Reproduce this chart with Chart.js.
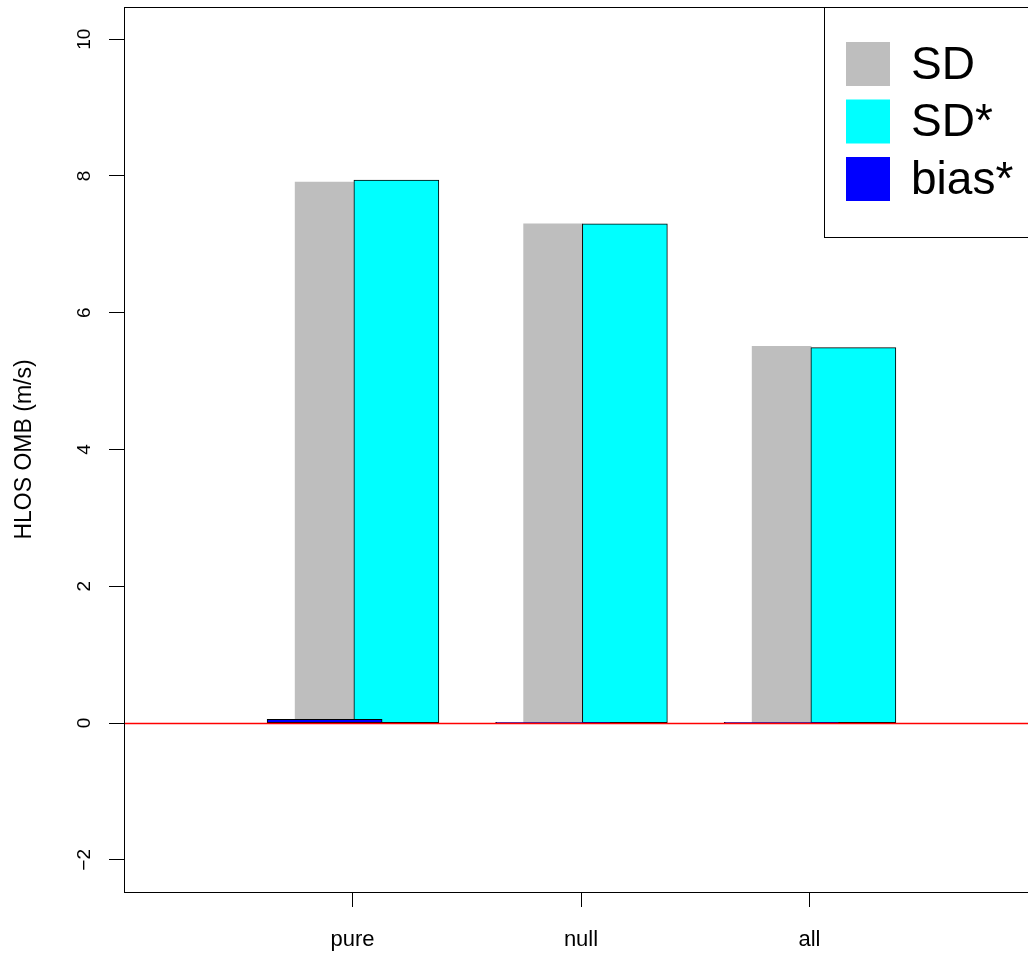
<!DOCTYPE html>
<html>
<head>
<meta charset="utf-8">
<title>HLOS OMB</title>
<script src="https://cdn.jsdelivr.net/npm/chart.js@4/dist/chart.umd.min.js"></script>
<style>
  html, body { margin: 0; padding: 0; background: #fff; overflow: hidden; }
  #wrap { position: relative; width: 1040px; height: 957px; }
</style>
</head>
<body>
<div id="wrap"><canvas id="chart" width="1040" height="957"></canvas></div>
<script>
// values
const categories = ['pure', 'null', 'all'];
const sdValues = [7.91, 7.30, 5.51];
const sdStarValues = [7.94, 7.30, 5.49];
const biasStarValues = [0.055, 0.01, 0.01];
const yTicks = [-2, 0, 2, 4, 6, 8, 10];

// each series sits at the category index plus a small shift (R barplot look)
const toPoints = (values, shift) => values.map((v, i) => ({ x: i + shift, y: v }));

// red zero line, box around the plot and the boxed legend
const rBoxPlugin = {
    id: 'rBox',
    afterDatasetsDraw(chart) {
        const { ctx, chartArea: a, scales: { y } } = chart;
        ctx.save();

        const y0 = Math.round(y.getPixelForValue(0)) + 0.5;
        ctx.strokeStyle = 'rgb(255, 0, 0)';
        ctx.lineWidth = 1.5;
        ctx.beginPath();
        ctx.moveTo(a.left, y0);
        ctx.lineTo(a.right, y0);
        ctx.stroke();

        ctx.lineWidth = 1;
        ctx.strokeStyle = '#000';
        ctx.strokeRect(a.left + 0.5, a.top + 0.5, a.right - a.left, a.bottom - a.top);

        // legend box, top right
        const w = 214, h = 230;
        const left = a.right - w, top = a.top;
        ctx.fillStyle = '#fff';
        ctx.fillRect(left, top, w, h);
        ctx.strokeRect(left + 0.5, top + 0.5, w, h);
        ctx.font = '46px "Liberation Sans", Arial, sans-serif';
        ctx.textBaseline = 'middle';
        ctx.textAlign = 'left';
        chart.data.datasets.forEach((ds, i) => {
            const sy = top + 35 + i * 57.5;
            ctx.fillStyle = ds.backgroundColor;
            ctx.fillRect(left + 22, sy, 44, 44);
            ctx.fillStyle = '#000';
            ctx.fillText(ds.label, left + 87, sy + 24);
        });
        ctx.restore();
    }
};

Chart.defaults.font.family = '"Liberation Sans", Arial, sans-serif';
Chart.defaults.color = '#000';

const canvas = document.getElementById('chart');
new Chart(canvas, {
    type: 'bar',
    data: {
        datasets: [
            {
                label: 'SD',
                data: toPoints(sdValues, -0.122),
                backgroundColor: '#BEBEBE',
                borderWidth: 0,
                barThickness: 59,
                order: 3
            },
            {
                label: 'SD*',
                data: toPoints(sdStarValues, 0.192),
                backgroundColor: '#00FFFF',
                borderColor: '#000',
                borderWidth: 1,
                borderSkipped: false,
                barThickness: 85,
                order: 2
            },
            {
                label: 'bias*',
                data: toPoints(biasStarValues, -0.122),
                backgroundColor: '#0000FF',
                borderColor: '#000',
                borderWidth: 1,
                borderSkipped: false,
                barThickness: 115,
                order: 1
            }
        ]
    },
    options: {
        responsive: false,
        animation: false,
        devicePixelRatio: 1,
        layout: { padding: { top: 7, right: 2, left: 0, bottom: 0 } },
        datasets: { bar: { grouped: false } },
        plugins: {
            legend: { display: false },
            tooltip: { enabled: false }
        },
        scales: {
            x: {
                type: 'linear',
                offset: false,
                min: -1,
                max: 3,
                afterBuildTicks: s => { s.ticks = categories.map((c, i) => ({ value: i })); },
                afterFit: s => { s.height = 65; s.paddingLeft = 0; s.paddingRight = 0; },
                border: { display: false },
                grid: { offset: false, drawOnChartArea: false, drawTicks: true, tickLength: 15, color: '#000' },
                ticks: {
                    callback: v => categories[v] ?? '',
                    color: '#000',
                    font: { size: 22 },
                    padding: 20,
                    maxRotation: 0,
                    autoSkip: false
                }
            },
            y: {
                min: -2.47,
                max: 10.47,
                afterBuildTicks: s => { s.ticks = yTicks.map(v => ({ value: v })); },
                afterFit: s => { s.width = 124; s.paddingTop = 0; s.paddingBottom = 0; },
                border: { display: false },
                grid: { drawOnChartArea: false, drawTicks: true, tickLength: 15, color: '#000' },
                ticks: {
                    callback: v => (v < 0 ? '\u2212' + Math.abs(v) : String(v)),
                    color: '#000',
                    font: { size: 19 },
                    minRotation: 90,
                    maxRotation: 90,
                    crossAlign: 'center',
                    padding: 13,
                    autoSkip: false
                },
                title: {
                    display: true,
                    text: 'HLOS OMB (m/s)',
                    color: '#000',
                    font: { size: 23 },
                    padding: { top: 11, bottom: 0 }
                }
            }
        }
    },
    plugins: [rBoxPlugin]
});
</script>
</body>
</html>
